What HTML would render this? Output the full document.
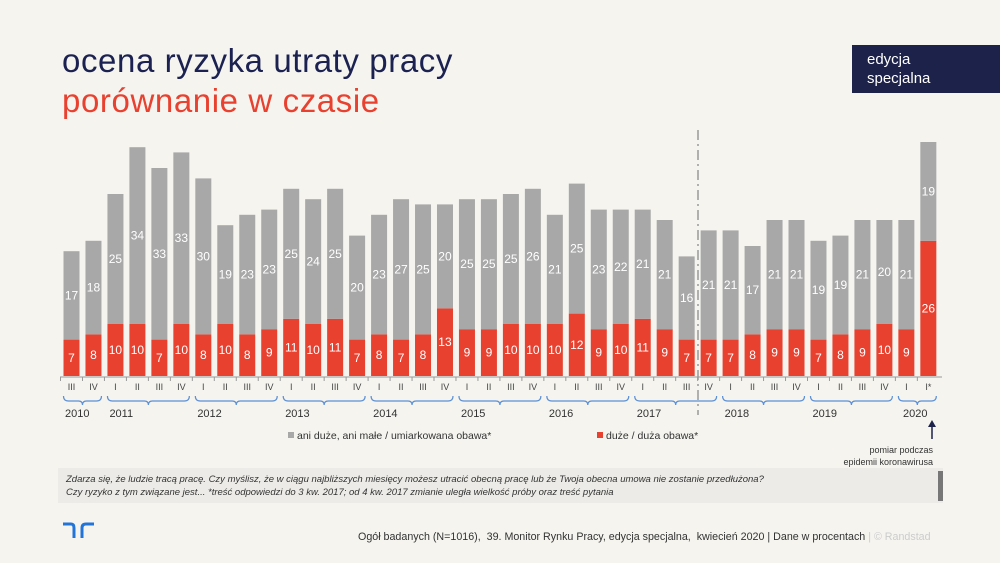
<!DOCTYPE html>
<html><head><meta charset="utf-8">
<style>
body{margin:0;width:1000px;height:563px;background:#f5f4ef;overflow:hidden;font-family:"Liberation Sans",sans-serif;position:relative}
.t1{position:absolute;left:62px;top:42px;font-size:33px;color:#1b2150;letter-spacing:0.6px}
.t2{position:absolute;left:62px;top:82px;font-size:33px;color:#e8412f;letter-spacing:0.6px}
.ed{position:absolute;left:852px;top:45px;width:148px;height:48px;background:#1c2249;color:#fff;font-size:15px;line-height:19px;box-sizing:border-box;padding:5px 0 0 15px}
.note{position:absolute;left:58px;top:468px;width:885px;height:35px;background:#ecebe7;font-size:9.5px;font-style:italic;color:#333;box-sizing:border-box;padding:6px 0 0 8px;line-height:12.5px}
.note:after{content:"";position:absolute;right:0;top:3px;width:5px;height:30px;background:#777}
.foot{position:absolute;left:358px;top:531px;font-size:10.7px;color:#333}
.foot span{color:#ccc}
svg{position:absolute;left:0;top:0}
</style></head><body>
<div class="t1">ocena ryzyka utraty pracy</div>
<div class="t2">porównanie w czasie</div>
<div class="ed">edycja<br>specjalna</div>
<svg id="s" width="1000" height="563"></svg>
<div class="note">Zdarza się, że ludzie tracą pracę. Czy myślisz, że w ciągu najbliższych miesięcy możesz utracić obecną pracę lub że Twoja obecna umowa nie zostanie przedłużona?<br>Czy ryzyko z tym związane jest... *treść odpowiedzi do 3 kw. 2017; od 4 kw. 2017 zmianie uległa wielkość próby oraz treść pytania</div>
<div class="foot">Ogół badanych (N=1016), &nbsp;39. Monitor Rynku Pracy, edycja specjalna, &nbsp;kwiecień 2020 | Dane w procentach <span>| © Randstad</span></div>
<script>
var R=[7,8,10,10,7,10,8,10,8,9,11,10,11,7,8,7,8,13,9,9,10,10,10,12,9,10,11,9,7,7,7,8,9,9,7,8,9,10,9,26];
var G=[17,18,25,34,33,33,30,19,23,23,25,24,25,20,23,27,25,20,25,25,25,26,21,25,23,22,21,21,16,21,21,17,21,21,19,19,21,20,21,19];
var Q=["III","IV"];for(var y=0;y<7;y++)Q.push("I","II","III","IV");Q.push("I","II","III","IV","I","II","III","IV","I","I*");
var s="",base=376,k=5.2,st=21.97,x0=71.5,w=16;
for(var i=0;i<40;i++){var cx=x0+i*st,hr=R[i]*k,hg=G[i]*k;
s+='<rect x="'+(cx-w/2)+'" y="'+(base-hr)+'" width="'+w+'" height="'+hr+'" fill="#e8412f"/>';
s+='<rect x="'+(cx-w/2)+'" y="'+(base-hr-hg)+'" width="'+w+'" height="'+hg+'" fill="#a8a8a8"/>';
s+='<text x="'+cx+'" y="'+(base-hr/2+4)+'" fill="#fff" font-size="12" text-anchor="middle">'+R[i]+'</text>';
s+='<text x="'+cx+'" y="'+(base-hr-hg/2+4)+'" fill="#fff" font-size="12" text-anchor="middle">'+G[i]+'</text>';
s+='<text x="'+cx+'" y="390" fill="#444" font-size="9" text-anchor="middle">'+Q[i]+'</text>';
s+='<line x1="'+(cx-st/2)+'" y1="377" x2="'+(cx-st/2)+'" y2="381" stroke="#999"/>';}
s+='<line x1="60" y1="377" x2="942" y2="377" stroke="#999"/>';
var yrs=[[2010,0,1],[2011,2,5],[2012,6,9],[2013,10,13],[2014,14,17],[2015,18,21],[2016,22,25],[2017,26,29],[2018,30,33],[2019,34,37],[2020,38,39]];
yrs.forEach(function(a){var l=x0+a[1]*st-8,r=x0+a[2]*st+8,m=(l+r)/2;
s+='<path d="M'+l+' 396 Q'+l+' 401 '+(l+5)+' 401 L'+(m-4)+' 401 Q'+m+' 401 '+m+' 405 Q'+m+' 401 '+(m+4)+' 401 L'+(r-5)+' 401 Q'+r+' 401 '+r+' 396" fill="none" stroke="#5b8fd6" stroke-width="1.2"/>';
var tx=a[0]==2010?65:(a[0]==2020?903:l+2);
s+='<text x="'+tx+'" y="417" fill="#333" font-size="11">'+a[0]+'</text>';});
s+='<line x1="698" y1="130" x2="698" y2="415" stroke="#999" stroke-width="1.5" stroke-dasharray="10,4,2,4"/>';
s+='<rect x="288" y="432" width="6" height="6" fill="#a8a8a8"/><text x="297" y="439" font-size="10.5" fill="#333">ani duże, ani małe / umiarkowana obawa*</text>';
s+='<rect x="597" y="432" width="6" height="6" fill="#e8412f"/><text x="606" y="439" font-size="10.5" fill="#333">duże / duża obawa*</text>';
s+='<line x1="932" y1="439" x2="932" y2="424" stroke="#1c2249" stroke-width="1.5"/><path d="M928 427 L932 420 L936 427Z" fill="#1c2249"/>';
s+='<text x="933" y="453" font-size="9" fill="#333" text-anchor="end">pomiar podczas</text><text x="933" y="465" font-size="9" fill="#333" text-anchor="end">epidemii koronawirusa</text>';
s+='<path d="M63 524 L71 524 Q74 524 74 528 L74 538 M82 538 L82 528 Q82 524 86 524 L94 524" fill="none" stroke="#2175d9" stroke-width="3"/>';
document.getElementById("s").innerHTML=s;
</script>
</body></html>
